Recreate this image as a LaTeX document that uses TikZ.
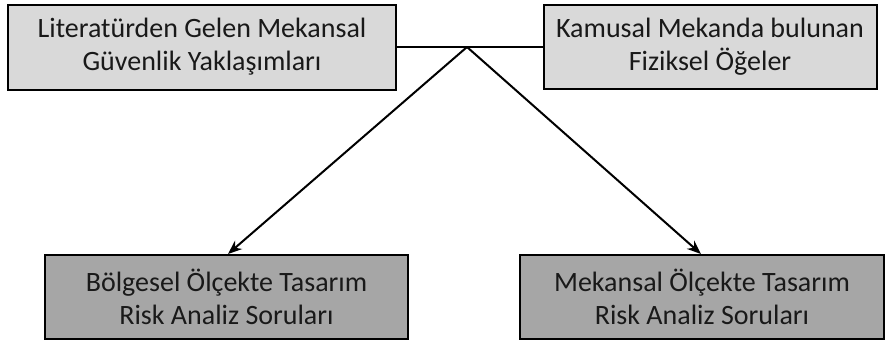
\documentclass[tikz,border=0pt]{standalone}
\usepackage{fontspec}
\setmainfont{Carlito}
\usetikzlibrary{arrows.meta}
\definecolor{boxlight}{HTML}{D9D9D9}
\definecolor{boxdark}{HTML}{A6A6A6}
\tikzset{
  basebox/.style={draw=black, line width=2pt, align=center, inner sep=0pt,
    font=\fontsize{28}{33}\selectfont, text=black!90},
  topbox/.style={basebox, fill=boxlight},
  bottombox/.style={basebox, fill=boxdark},
  link/.style={line width=2pt},
  arrowlink/.style={link, -{Stealth[length=14pt,width=11pt]}}
}
\begin{document}
\begin{tikzpicture}[x=1pt,y=-1pt]
  \useasboundingbox (0,0) rectangle (890,341);
  % source boxes
  \node[topbox, minimum width=388pt, minimum height=85pt] (lit) at (202,47)
    {Literatürden Gelen Mekansal\\Güvenlik Yaklaşımları};
  \node[topbox, minimum width=333pt, minimum height=84pt] (kam) at (710,47)
    {Kamusal Mekanda bulunan\\Fiziksel Öğeler};
  % result boxes
  \node[bottombox, minimum width=363pt, minimum height=84pt] (bol) at (226.5,297)
    {Bölgesel Ölçekte Tasarım\\Risk Analiz Soruları};
  \node[bottombox, minimum width=364pt, minimum height=84pt] (mek) at (702,297)
    {Mekansal Ölçekte Tasarım\\Risk Analiz Soruları};
  % junction on the joining line
  \coordinate (j) at (467,47);
  \draw[link] (lit.east) -- (kam.west);
  \draw[arrowlink] (j) -- (bol.north -| 228,0);
  \draw[arrowlink] (j) -- (mek.north -| 701,0);
\end{tikzpicture}
\end{document}
